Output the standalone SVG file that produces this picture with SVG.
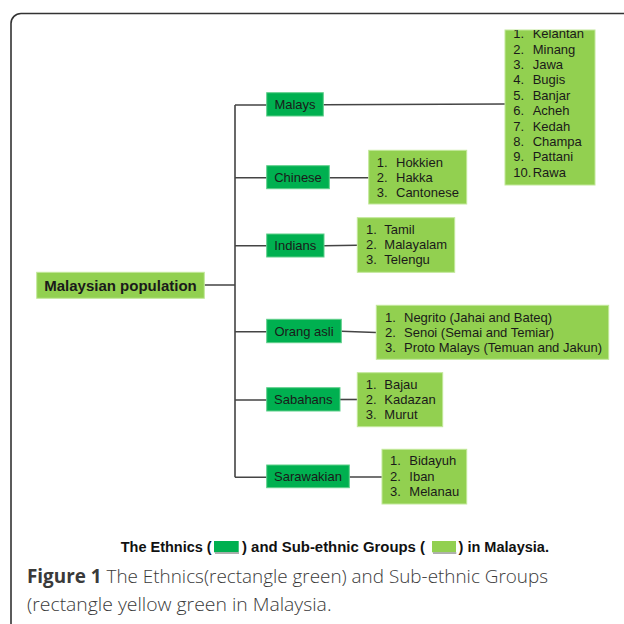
<svg xmlns="http://www.w3.org/2000/svg" width="624" height="624" viewBox="0 0 624 624">
<style>
.eth{fill:#00b050;stroke:#5fcf8a;stroke-width:1}
.sub{fill:#92d050;stroke:#c2e89a;stroke-width:1}
.t{font-family:"Liberation Sans",Arial,sans-serif;font-size:13px;fill:#1a1a1a}
.c{text-anchor:middle}
.ln{stroke:#444;stroke-width:1.6;fill:none}
.cap{font-family:"Open Sans","Noto Sans",sans-serif;font-size:19px;fill:#3a3a3a;font-weight:300}
.lg{font-family:"Liberation Sans",Arial,sans-serif;font-size:14px;font-weight:bold;fill:#111}
</style>
<defs>
<clipPath id="clipM"><rect x="505" y="30" width="90" height="155"/></clipPath>
</defs>
<rect x="11" y="13.5" width="700" height="700" rx="10" fill="#fff" stroke="#333" stroke-width="1.6"/>

<g id="connectors">
<path class="ln" d="M204.3 285H235M235 105V477.3"/>
<path class="ln" d="M235 105H266.7M235 177.7H266.7M235 245.7H266.7M235 331.7H266.7M235 400H266.7M235 477.3H266.7"/>
<path class="ln" d="M323.3 104.8L505 104"/>
<path class="ln" d="M329.3 177.7H368.7"/>
<path class="ln" d="M324 245.7L357.3 245.3"/>
<path class="ln" d="M341.3 331.3L376 332.5"/>
<path class="ln" d="M340 399.5H357.3"/>
<path class="ln" d="M349.3 477H382"/>
</g>

<g id="root">
<rect class="sub" x="36.7" y="272.3" width="167.6" height="26"/>
<text class="t c" x="120.5" y="290.5" style="font-size:15px;font-weight:bold">Malaysian population</text>
</g>

<g id="malays">
<rect class="eth" x="266.7" y="92.7" width="56.6" height="23.3"/>
<text class="t c" x="295" y="108.7">Malays</text>
</g>
<g id="chinese">
<rect class="eth" x="266.7" y="165.7" width="62.6" height="23"/>
<text class="t c" x="298" y="181.7">Chinese</text>
</g>
<g id="indians">
<rect class="eth" x="266.7" y="234" width="57.3" height="23"/>
<text class="t c" x="295.3" y="250">Indians</text>
</g>
<g id="orangasli">
<rect class="eth" x="266.7" y="319.3" width="74.6" height="23.4"/>
<text class="t c" x="304" y="335.5">Orang asli</text>
</g>
<g id="sabahans">
<rect class="eth" x="266.7" y="387.7" width="73.3" height="23.3"/>
<text class="t c" x="303.3" y="404">Sabahans</text>
</g>
<g id="sarawakian">
<rect class="eth" x="266.7" y="465" width="82.6" height="22.7"/>
<text class="t c" x="308" y="481.3">Sarawakian</text>
</g>

<g id="malays-sub">
<rect class="sub" x="505" y="30" width="90" height="155"/>
<g clip-path="url(#clipM)">
<text class="t" x="513.3" y="38.3">1.</text><text class="t" x="532.7" y="38.3">Kelantan</text>
<text class="t" x="513.3" y="53.7">2.</text><text class="t" x="532.7" y="53.7">Minang</text>
<text class="t" x="513.3" y="69.1">3.</text><text class="t" x="532.7" y="69.1">Jawa</text>
<text class="t" x="513.3" y="84.4">4.</text><text class="t" x="532.7" y="84.4">Bugis</text>
<text class="t" x="513.3" y="99.8">5.</text><text class="t" x="532.7" y="99.8">Banjar</text>
<text class="t" x="513.3" y="115.2">6.</text><text class="t" x="532.7" y="115.2">Acheh</text>
<text class="t" x="513.3" y="130.6">7.</text><text class="t" x="532.7" y="130.6">Kedah</text>
<text class="t" x="513.3" y="145.9">8.</text><text class="t" x="532.7" y="145.9">Champa</text>
<text class="t" x="513.3" y="161.3">9.</text><text class="t" x="532.7" y="161.3">Pattani</text>
<text class="t" x="513.3" y="176.7">10.</text><text class="t" x="532.7" y="176.7">Rawa</text>
</g>
</g>

<g id="chinese-sub">
<rect class="sub" x="368.7" y="150.3" width="98" height="53.7"/>
<text class="t" x="376.7" y="166.7">1.</text><text class="t" x="396" y="166.7">Hokkien</text>
<text class="t" x="376.7" y="182">2.</text><text class="t" x="396" y="182">Hakka</text>
<text class="t" x="376.7" y="197.3">3.</text><text class="t" x="396" y="197.3">Cantonese</text>
</g>

<g id="indians-sub">
<rect class="sub" x="357.3" y="217.7" width="97.4" height="54.6"/>
<text class="t" x="366" y="234">1.</text><text class="t" x="384.3" y="234">Tamil</text>
<text class="t" x="366" y="249.3">2.</text><text class="t" x="384.3" y="249.3">Malayalam</text>
<text class="t" x="366" y="264.3">3.</text><text class="t" x="384.3" y="264.3">Telengu</text>
</g>

<g id="orangasli-sub">
<rect class="sub" x="376.3" y="305.3" width="232.4" height="54"/>
<text class="t" x="385" y="321.7">1.</text><text class="t" x="404" y="321.7">Negrito (Jahai and Bateq)</text>
<text class="t" x="385" y="337">2.</text><text class="t" x="404" y="337">Senoi (Semai and Temiar)</text>
<text class="t" x="385" y="352.3">3.</text><text class="t" x="404" y="352.3">Proto Malays (Temuan and Jakun)</text>
</g>

<g id="sabahans-sub">
<rect class="sub" x="357.3" y="372.7" width="85.4" height="54"/>
<text class="t" x="365.7" y="389.3">1.</text><text class="t" x="384.3" y="389.3">Bajau</text>
<text class="t" x="365.7" y="404.3">2.</text><text class="t" x="384.3" y="404.3">Kadazan</text>
<text class="t" x="365.7" y="419.3">3.</text><text class="t" x="384.3" y="419.3">Murut</text>
</g>

<g id="sarawakian-sub">
<rect class="sub" x="382" y="449.3" width="84.7" height="54.7"/>
<text class="t" x="390" y="465.3">1.</text><text class="t" x="409.3" y="465.3">Bidayuh</text>
<text class="t" x="390" y="480.6">2.</text><text class="t" x="409.3" y="480.6">Iban</text>
<text class="t" x="390" y="496">3.</text><text class="t" x="409.3" y="496">Melanau</text>
</g>

<g id="legend">
<text class="lg" x="120.7" y="552" textLength="91" lengthAdjust="spacingAndGlyphs">The Ethnics (</text>
<rect x="214" y="541" width="24.7" height="11.3" fill="#00b050"/>
<rect x="215" y="552.3" width="24" height="1.5" fill="#9a9a9a"/>
<text class="lg" x="242" y="552" textLength="183" lengthAdjust="spacingAndGlyphs">) and Sub-ethnic Groups (</text>
<rect x="432" y="541" width="24" height="11.3" fill="#92d050"/>
<rect x="433" y="552.3" width="23.3" height="1.5" fill="#9a9a9a"/>
<text class="lg" x="458.5" y="552" textLength="90.5" lengthAdjust="spacingAndGlyphs">) in Malaysia.</text>
</g>

<g id="caption">
<text class="cap" x="27" y="583.3" textLength="521" lengthAdjust="spacingAndGlyphs"><tspan font-weight="bold">Figure 1</tspan> The Ethnics(rectangle green) and Sub-ethnic Groups</text>
<text class="cap" x="27" y="610.7" textLength="304.5" lengthAdjust="spacingAndGlyphs">(rectangle yellow green in Malaysia.</text>
</g>
</svg>
